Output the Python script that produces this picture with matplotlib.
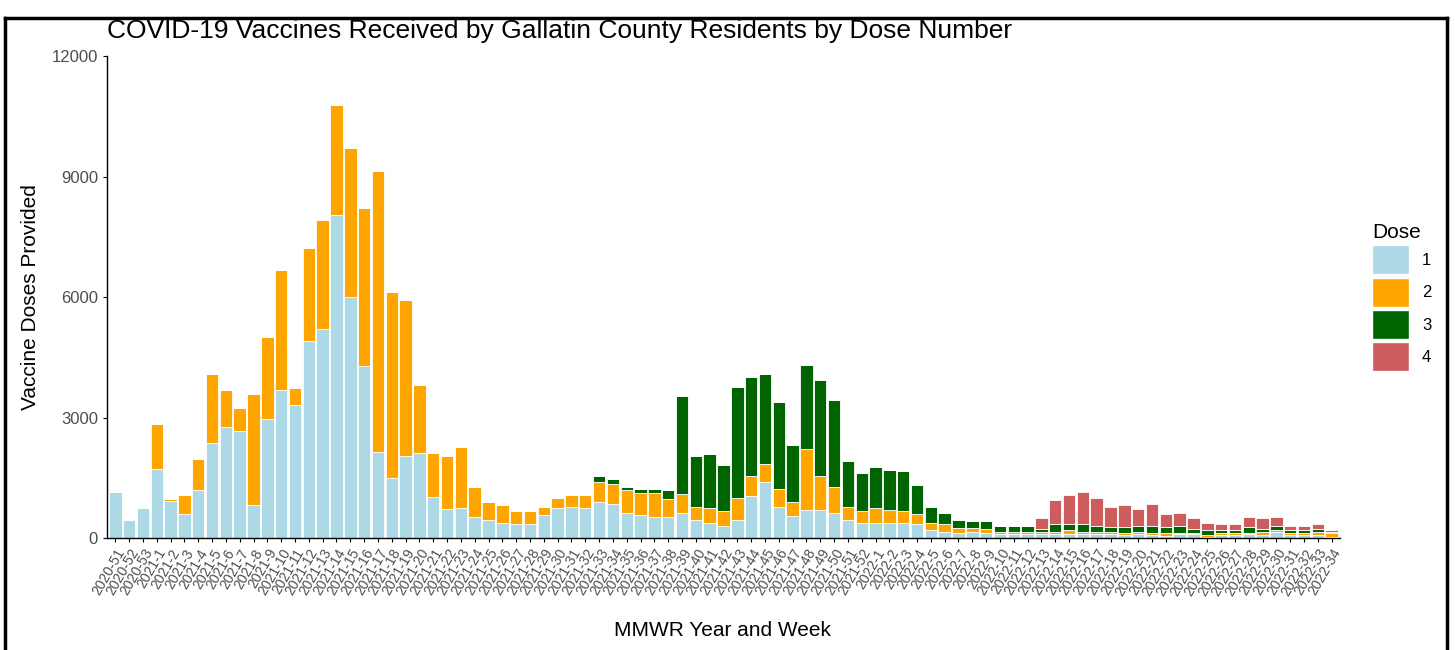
import matplotlib.pyplot as plt
import numpy as np
from matplotlib.patches import Patch
from matplotlib.lines import Line2D

plt.rcParams['font.family'] = ['Liberation Sans', 'DejaVu Sans']

# MMWR year-week labels
weeks = (['2020-51', '2020-52', '2020-53']
         + ['2021-%d' % w for w in range(1, 53)]
         + ['2022-%d' % w for w in range(1, 35)])

dose1 = [1150, 450, 755, 1710, 930, 600, 1195, 2375, 2765, 2665,
         820, 2955, 3685, 3320, 4905, 5195, 8035, 6000, 4280, 2150,
         1485, 2035, 2110, 1010, 715, 750, 525, 450, 375, 340,
         340, 565, 745, 780, 745, 890, 855, 630, 565, 525,
         525, 630, 450, 375, 300, 450, 1040, 1400, 780, 555,
         705, 705, 630, 450, 375, 375, 375, 375, 340, 190,
         160, 120, 150, 115, 90, 90, 90, 90, 90, 90,
         90, 90, 90, 75, 90, 75, 60, 90, 90, 25,
         85, 85, 100, 75, 150, 85, 85, 85, 25]
dose2 = [0, 0, 0, 1130, 40, 470, 765, 1715, 920, 580,
         2755, 2055, 2980, 405, 2305, 2720, 2745, 3715, 3925, 6985,
         4630, 3900, 1690, 1100, 1320, 1505, 735, 440, 440, 325,
         325, 215, 260, 290, 325, 515, 480, 555, 550, 590,
         440, 475, 330, 365, 370, 550, 515, 450, 440, 330,
         1510, 850, 630, 330, 290, 365, 330, 290, 255, 185,
         180, 140, 110, 115, 70, 70, 70, 70, 70, 100,
         70, 70, 70, 40, 70, 40, 55, 25, 25, 60,
         30, 30, 35, 85, 40, 30, 30, 65, 90]
dose3 = [0] * 35 + [150, 140, 75, 110, 105,
         225, 2435, 1250, 1360, 1140, 2760, 2465, 2240, 2165, 1440,
         2090, 2390, 2165, 1140, 965, 1040, 995, 995, 730, 405,
         290, 190, 155, 185, 140, 140, 140, 75, 180, 150,
         180, 150, 105, 150, 150, 190, 150, 190, 115, 105,
         75, 75, 130, 75, 115, 75, 75, 85, 35]
dose4 = [0] * 67 + [255, 600, 730,
         815, 695, 515, 550, 405, 550, 335, 325, 260, 190,
         150, 150, 260, 255, 215, 115, 115, 105, 40]

doses = ['1', '2', '3', '4']
colors = ['#ADD8E6', '#FFA500', '#006400', '#CD5C5C']

fig = plt.figure(figsize=(14.55, 6.5), dpi=100)
ax = fig.add_axes([107 / 1455, 1 - 538 / 650, 1233 / 1455, 482 / 650])

x = np.arange(len(weeks))
bottom = np.zeros(len(weeks))
for vals, c in zip([dose1, dose2, dose3, dose4], colors):
    ax.bar(x, vals, width=0.9, bottom=bottom, color=c,
           edgecolor='white', linewidth=0.6)
    bottom += np.array(vals)

ax.set_xlim(-0.6, len(weeks) - 0.4)
ax.set_ylim(0, 12000)
ax.set_yticks([0, 3000, 6000, 9000, 12000])
ax.set_xticks(x)
ax.set_xticklabels(weeks, rotation=60, ha='right', rotation_mode='anchor',
                   fontsize=10, color='#4D4D4D')
ax.tick_params(axis='y', labelsize=12, labelcolor='#4D4D4D', length=3)
ax.tick_params(axis='x', length=3, pad=3)
for s in ['top', 'right']:
    ax.spines[s].set_visible(False)
ax.spines['left'].set_linewidth(1)
ax.spines['bottom'].set_linewidth(1)

fig.text(31 / 1455, 1 - 297 / 650, 'Vaccine Doses Provided', fontsize=15,
         rotation=90, ha='center', va='center')
fig.text(722 / 1455, 1 - 630 / 650, 'MMWR Year and Week', fontsize=15,
         ha='center', va='center')
fig.text(107 / 1455, 1 - 31 / 650,
         'COVID-19 Vaccines Received by Gallatin County Residents by Dose Number',
         fontsize=19, ha='left', va='center')

handles = [Patch(facecolor=c, edgecolor='white', label=d) for d, c in zip(doses, colors)]
leg = fig.legend(handles=handles, title='Dose', loc='upper left',
                 bbox_to_anchor=(1357 / 1455, 1 - 208 / 650), frameon=False,
                 fontsize=12, title_fontsize=15, handlelength=2.2, handleheight=2.3,
                 labelspacing=0.2, handletextpad=0.8)
leg._legend_box.align = 'left'

# screenshot frame
fig.add_artist(Line2D([5 / 1455, 5 / 1455], [0, 1 - 18 / 650], color='black', lw=2.5))
fig.add_artist(Line2D([1447 / 1455, 1447 / 1455], [0, 1 - 18 / 650], color='black', lw=2.5))
fig.add_artist(Line2D([5 / 1455, 1447 / 1455], [1 - 18 / 650, 1 - 18 / 650], color='black', lw=2.5))

fig.savefig('out.png', dpi=100)
